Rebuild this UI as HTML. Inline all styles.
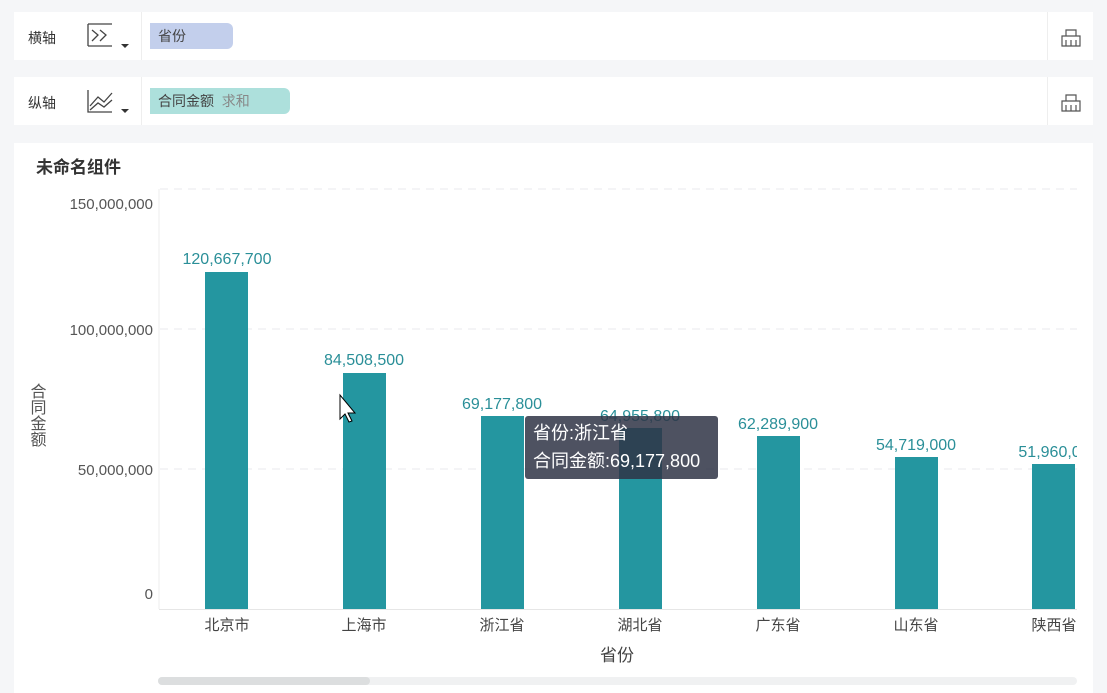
<!DOCTYPE html><html><head><meta charset="utf-8"><style>
body{margin:0;width:1107px;height:693px;background:#f5f6f8;font-family:"Liberation Sans","Noto Sans CJK SC",sans-serif;position:relative;overflow:hidden}
.bar{position:absolute;left:14px;width:1079px;height:48px;background:#fff}
.abs{position:absolute}
</style></head><body>
<div class="bar" style="top:12px"></div>
<div class="bar" style="top:77px"></div>
<div class="abs" style="left:28px;top:28px;font-size:14px;color:#333">横轴</div>
<div class="abs" style="left:28px;top:93px;font-size:14px;color:#333">纵轴</div>
<svg class="abs" style="left:84px;top:22px" width="52" height="100">
<path d="M4 2V24M4 24H28M4 2H28M8 8L14 13 8 19M16 8L22 13 16 19" stroke="#444" stroke-width="1.3" fill="none"/>
<path d="M37 22h8l-4 4z" fill="#333"/>
<path d="M4 68V90H28M6 84l8-9 6 5 8-9M6 88l8-7 6 4 8-7" stroke="#444" stroke-width="1.3" fill="none"/>
<path d="M37 87h8l-4 4z" fill="#333"/>
</svg>
<div class="abs" style="left:141px;top:12px;width:1px;height:48px;background:#eee"></div>
<div class="abs" style="left:141px;top:77px;width:1px;height:48px;background:#eee"></div>
<div class="abs" style="left:1047px;top:12px;width:1px;height:48px;background:#eee"></div>
<div class="abs" style="left:1047px;top:77px;width:1px;height:48px;background:#eee"></div>
<div class="abs" style="left:150px;top:23px;width:83px;height:26px;background:#c3cfec;border-radius:0 6px 6px 0;font-size:14px;line-height:26px;color:#444;padding-left:8px;box-sizing:border-box">省份</div>
<div class="abs" style="left:150px;top:88px;width:140px;height:26px;background:#ade0dc;border-radius:0 6px 6px 0;font-size:14px;line-height:26px;color:#444;padding-left:8px;box-sizing:border-box">合同金额 <span style="color:#888">&nbsp;求和</span></div>
<svg class="abs" style="left:1060px;top:26px" width="22" height="90"><g stroke="#555" fill="none" stroke-width="1.2"><path d="M2 20V10h18v10zM6 10V4h10v6M6 14v6M11 14v6M16 14v6"/><path transform="translate(0,65)" d="M2 20V10h18v10zM6 10V4h10v6M6 14v6M11 14v6M16 14v6"/></g></svg>
<div class="abs" style="left:14px;top:143px;width:1079px;height:550px;background:#fff"></div>
<div class="abs" style="left:36px;top:153px;font-size:17px;font-weight:bold;color:#333">未命名组件</div>
<svg class="abs" style="left:0;top:0" width="1107" height="693" font-family="Liberation Sans,Noto Sans CJK SC,sans-serif">
<g stroke="#e8e8ec" stroke-dasharray="8,6"><line x1="160" x2="1077" y1="189" y2="189"/><line x1="160" x2="1077" y1="329" y2="329"/><line x1="160" x2="1077" y1="469" y2="469"/></g>
<line x1="159" x2="159" y1="189" y2="609" stroke="#eee"/>
<line x1="159" x2="1077" y1="609.5" y2="609.5" stroke="#e6e6e6"/>
<g font-size="15" fill="#555" text-anchor="end"><text x="153" y="209">150,000,000</text><text x="153" y="335">100,000,000</text><text x="153" y="475">50,000,000</text><text x="153" y="599">0</text></g>
<g font-size="16" fill="#555"><text x="36" y="383" writing-mode="tb">合同金额</text></g>
<g fill="#2496a0">
<rect x="205" y="272" width="43" height="337"/><rect x="343" y="373" width="43" height="236"/><rect x="481" y="416" width="43" height="193"/><rect x="619" y="428" width="43" height="181"/><rect x="757" y="436" width="43" height="173"/><rect x="895" y="457" width="43" height="152"/><rect x="1032" y="464" width="43" height="145"/></g>
<g font-size="16" fill="#2a8f98" text-anchor="middle"><text x="227" y="264">120,667,700</text><text x="364" y="365">84,508,500</text><text x="502" y="409">69,177,800</text><text x="640" y="421">64,955,800</text><text x="778" y="429">62,289,900</text><text x="916" y="450">54,719,000</text><text x="1054" y="457">51,960,00</text></g>
<g font-size="15" fill="#444" text-anchor="middle"><text x="227" y="630">北京市</text><text x="364" y="630">上海市</text><text x="502" y="630">浙江省</text><text x="640" y="630">湖北省</text><text x="778" y="630">广东省</text><text x="916" y="630">山东省</text><text x="1054" y="630">陕西省</text><text x="617" y="661" font-size="17">省份</text></g>
<rect x="1077" y="180" width="16" height="440" fill="#fff"/>
<rect x="525" y="416" width="193" height="63" rx="3" fill="#2f3445" opacity="0.85"/>
<g font-size="18" fill="#fff"><text x="533" y="439">省份:浙江省</text><text x="533" y="467">合同金额:69,177,800</text></g>
<path d="M340 395v24l5-5 4 8 3-1-4-8h7z" fill="#fff" stroke="#000"/>
<rect x="158" y="677" width="919" height="8" rx="4" fill="#f0f1f2"/>
<rect x="158" y="677" width="212" height="8" rx="4" fill="#dcdedf"/>
</svg>
</body></html>
